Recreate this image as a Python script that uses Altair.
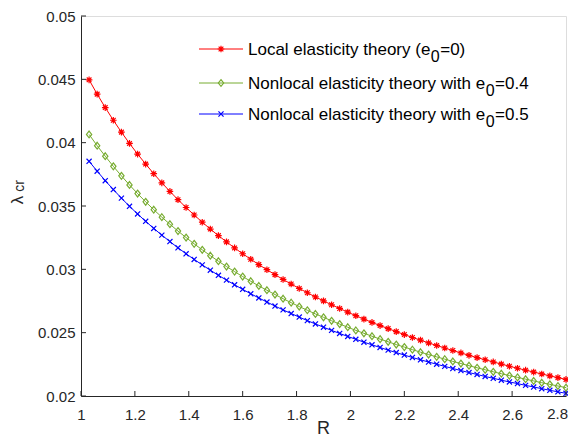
import altair as alt
import pandas as pd

# ---------------- data ----------------
R = [1.03, 1.06, 1.09, 1.12, 1.15, 1.18, 1.21, 1.24, 1.27, 1.30,
     1.33, 1.36, 1.39, 1.42, 1.45, 1.48, 1.51, 1.54, 1.57, 1.60,
     1.63, 1.66, 1.69, 1.72, 1.75, 1.78, 1.81, 1.84, 1.87, 1.90,
     1.93, 1.96, 1.99, 2.02, 2.05, 2.08, 2.11, 2.14, 2.17, 2.20,
     2.23, 2.26, 2.29, 2.32, 2.35, 2.38, 2.41, 2.44, 2.47, 2.50,
     2.53, 2.56, 2.59, 2.62, 2.65, 2.68, 2.71, 2.74, 2.77, 2.80]

lam_local = [0.04496, 0.04383, 0.04277, 0.04177, 0.04083, 0.03994, 0.03910, 0.03831, 0.03755, 0.03683,
             0.03615, 0.03550, 0.03488, 0.03429, 0.03372, 0.03318, 0.03266, 0.03217, 0.03169, 0.03123,
             0.03080, 0.03037, 0.02997, 0.02958, 0.02920, 0.02884, 0.02849, 0.02815, 0.02782, 0.02751,
             0.02720, 0.02691, 0.02662, 0.02634, 0.02607, 0.02581, 0.02556, 0.02532, 0.02508, 0.02485,
             0.02462, 0.02441, 0.02419, 0.02399, 0.02379, 0.02359, 0.02340, 0.02321, 0.02303, 0.02286,
             0.02269, 0.02252, 0.02235, 0.02219, 0.02204, 0.02189, 0.02174, 0.02159, 0.02145, 0.02131]

lam_e04 = [0.04065, 0.03976, 0.03893, 0.03813, 0.03738, 0.03666, 0.03598, 0.03533, 0.03471, 0.03412,
           0.03356, 0.03302, 0.03251, 0.03201, 0.03154, 0.03108, 0.03064, 0.03022, 0.02982, 0.02943,
           0.02906, 0.02869, 0.02835, 0.02801, 0.02768, 0.02737, 0.02706, 0.02677, 0.02648, 0.02621,
           0.02594, 0.02568, 0.02543, 0.02518, 0.02495, 0.02472, 0.02449, 0.02428, 0.02406, 0.02386,
           0.02366, 0.02346, 0.02327, 0.02309, 0.02291, 0.02273, 0.02256, 0.02239, 0.02223, 0.02207,
           0.02191, 0.02176, 0.02161, 0.02147, 0.02133, 0.02119, 0.02105, 0.02092, 0.02079, 0.02066]

lam_e05 = [0.03853, 0.03775, 0.03700, 0.03630, 0.03562, 0.03498, 0.03437, 0.03379, 0.03323, 0.03270,
           0.03219, 0.03170, 0.03123, 0.03078, 0.03035, 0.02993, 0.02953, 0.02915, 0.02878, 0.02842,
           0.02807, 0.02774, 0.02742, 0.02710, 0.02680, 0.02651, 0.02623, 0.02595, 0.02569, 0.02543,
           0.02518, 0.02494, 0.02470, 0.02448, 0.02425, 0.02404, 0.02383, 0.02362, 0.02343, 0.02323,
           0.02304, 0.02286, 0.02268, 0.02251, 0.02234, 0.02217, 0.02201, 0.02185, 0.02170, 0.02154,
           0.02140, 0.02125, 0.02111, 0.02098, 0.02084, 0.02071, 0.02058, 0.02045, 0.02033, 0.02021]

series_names = ["local", "e04", "e05"]
legend_prefix = ["Local elasticity theory (e", "Nonlocal elasticity theory with e", "Nonlocal elasticity theory with e"]
legend_sub = ["0", "0", "0"]
legend_suffix = ["=0)", "=0.4", "=0.5"]

x_ticks = [1, 1.2, 1.4, 1.6, 1.8, 2, 2.2, 2.4, 2.6, 2.8]
x_tick_labels = ["1", "1.2", "1.4", "1.6", "1.8", "2", "2.2", "2.4", "2.6", "2.8"]
y_ticks = [0.02, 0.025, 0.03, 0.035, 0.04, 0.045, 0.05]
x_title = "R"

# ---------------- styling ----------------
W, H = 485, 380
FONT = "Liberation Sans"
AX = "#262626"
colors = ["#FF0000", "#77AC30", "#0000FF"]
shapes = [
    "M-1,0L1,0M0,-1L0,1M-0.71,-0.71L0.71,0.71M-0.71,0.71L0.71,-0.71",
    "M0,-1L0.78,0L0,1L-0.78,0Z",
    "M-1,-1L1,1M-1,1L1,-1",
]
sizes = [44, 46, 26]

# Arial / Liberation Sans advance widths (em)
CW = {'L': .556, 'o': .556, 'c': .5, 'a': .556, 'l': .222, ' ': .278, 'e': .556, 's': .5,
      't': .278, 'i': .222, 'y': .5, 'h': .556, 'r': .333, '(': .333, ')': .333, 'N': .722,
      'n': .556, 'w': .722, '=': .584, '0': .556, '.': .278, '4': .556, '5': .556}


def text_w(s, fs):
    return sum(CW.get(ch, .556) for ch in s) * fs


rows = []
for name, vals in zip(series_names, [lam_local, lam_e04, lam_e05]):
    for r, v in zip(R, vals):
        rows.append({"R": r, "lam": v, "series": name})
df = pd.DataFrame(rows)

xscale = alt.Scale(domain=[1, 2.8], nice=False, zero=False)
yscale = alt.Scale(domain=[0.02, 0.05], nice=False, zero=False)

# the last x label is drawn separately (shifted inward so it is not clipped at the page edge)
xax = alt.Axis(values=x_ticks, format="~g", title=None, tickSize=0, labelPadding=11,
               grid=False, domainColor=AX, labelColor=AX, labelFontSize=15, labelFont=FONT,
               labelFlush=False, labelExpr="datum.value >= 2.79 ? '' : datum.label")
yax = alt.Axis(values=y_ticks, format="~g", title=None, tickSize=0, labelPadding=6,
               grid=False, domainColor=AX, labelColor=AX, labelFontSize=15, labelFont=FONT)

layers = []
for i, name in enumerate(series_names):
    b = alt.Chart(df).transform_filter(alt.datum.series == name)
    layers.append(b.mark_line(color=colors[i], strokeWidth=1).encode(
        x=alt.X("R:Q", scale=xscale, axis=xax), y=alt.Y("lam:Q", scale=yscale, axis=yax)))
    layers.append(b.mark_point(shape=shapes[i], color=colors[i], filled=False, size=sizes[i],
                               strokeWidth=1.2, opacity=1).encode(
        x=alt.X("R:Q", scale=xscale), y=alt.Y("lam:Q", scale=yscale)))

# inward ticks
xt = pd.DataFrame({"R": x_ticks})
yt = pd.DataFrame({"lam": y_ticks})
layers.append(alt.Chart(xt).mark_rule(color=AX, strokeWidth=1).encode(
    x=alt.X("R:Q", scale=xscale), y=alt.value(H), y2=alt.value(H - 5)))
layers.append(alt.Chart(yt).mark_rule(color=AX, strokeWidth=1).encode(
    y=alt.Y("lam:Q", scale=yscale), x=alt.value(0), x2=alt.value(5)))

# last x tick label
last = pd.DataFrame({"R": [x_ticks[-1]], "lbl": [x_tick_labels[-1]]})
layers.append(alt.Chart(last).mark_text(font=FONT, fontSize=15, align="right", baseline="top",
                                        dx=2, color=AX).encode(
    x=alt.X("R:Q", scale=xscale), y=alt.value(H + 11), text="lbl:N"))

one = pd.DataFrame({"k": [0]})

# x-axis title
layers.append(alt.Chart(one).mark_text(text=x_title, font=FONT, fontSize=18,
                                       align="center", baseline="middle", color=AX).encode(
    x=alt.value(W / 2), y=alt.value(413)))

# y-axis title  lambda_cr
layers.append(alt.Chart(one).mark_text(text="λ", font=FONT, fontSize=17, angle=270,
                                       align="center", baseline="middle", color=AX).encode(
    x=alt.value(-63), y=alt.value(184)))
layers.append(alt.Chart(one).mark_text(text="cr", font=FONT, fontSize=14, angle=270,
                                       align="center", baseline="middle", color=AX).encode(
    x=alt.value(-61), y=alt.value(170)))

# custom legend
LFS = 17
SFS = 16
lx0, lx1, mx, tx = 118, 162, 140, 167
row_y = [33, 67, 98]
for i in range(3):
    ry = row_y[i]
    layers.append(alt.Chart(one).mark_rule(color=colors[i], strokeWidth=1).encode(
        x=alt.value(lx0), x2=alt.value(lx1), y=alt.value(ry)))
    layers.append(alt.Chart(one).mark_point(shape=shapes[i], color=colors[i], filled=False,
                                            size=sizes[i], strokeWidth=1.2, opacity=1).encode(
        x=alt.value(mx), y=alt.value(ry)))
    w1 = text_w(legend_prefix[i], LFS)
    w2 = text_w(legend_sub[i], SFS)
    layers.append(alt.Chart(one).mark_text(text=legend_prefix[i], font=FONT, fontSize=LFS,
                                           align="left", baseline="alphabetic", color="#000000").encode(
        x=alt.value(tx), y=alt.value(ry + 6)))
    layers.append(alt.Chart(one).mark_text(text=legend_sub[i], font=FONT, fontSize=SFS,
                                           align="left", baseline="alphabetic", color="#000000").encode(
        x=alt.value(tx + w1 + 0.5), y=alt.value(ry + 13)))
    layers.append(alt.Chart(one).mark_text(text=legend_suffix[i], font=FONT, fontSize=LFS,
                                           align="left", baseline="alphabetic", color="#000000").encode(
        x=alt.value(tx + w1 + w2 + 1), y=alt.value(ry + 6)))

chart = alt.layer(*layers).properties(
    width=W, height=H,
    padding={"left": 73, "top": 8, "right": 2, "bottom": 50},
    autosize=alt.AutoSizeParams(type="none"),
).configure_view(stroke=None).configure(background="white")

chart.save("out.html", embed_options={"renderer": "svg", "actions": False})
